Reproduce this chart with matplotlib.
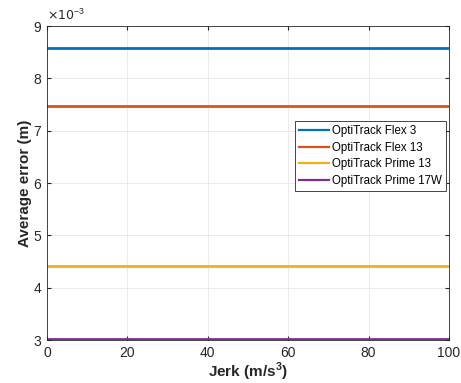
import matplotlib
matplotlib.use("Agg")
import matplotlib.pyplot as plt
from matplotlib.ticker import FuncFormatter

jerk = [0, 100]
flex3 = [0.00858, 0.00858]
flex13 = [0.00748, 0.00748]
prime13 = [0.00442, 0.00442]
prime17w = [0.00303, 0.00303]

names = ["OptiTrack Flex 3", "OptiTrack Flex 13", "OptiTrack Prime 13", "OptiTrack Prime 17W"]
colors = ["#0072BD", "#D95319", "#EDB120", "#7E2F8E"]

xticks = [0, 20, 40, 60, 80, 100]
yticks = [0.003, 0.004, 0.005, 0.006, 0.007, 0.008, 0.009]


def main():
	plt.rcParams["font.family"] = ["Liberation Sans", "DejaVu Sans"]
	fig = plt.figure(figsize=(4.61, 3.83), dpi=100)
	ax = fig.add_axes([0.102, 0.112, 0.872, 0.820])

	for ys, name, c in zip([flex3, flex13, prime13, prime17w], names, colors):
		ax.plot(jerk, ys, color=c, lw=2, label=name)

	ax.set_xlim(0, 100)
	ax.set_ylim(0.003, 0.009)
	ax.set_xticks(xticks)
	ax.set_yticks(yticks)
	ax.yaxis.set_major_formatter(FuncFormatter(lambda v, p: "%g" % round(v * 1000, 6)))
	ax.tick_params(direction="in", labelsize=10, colors="#262626", length=3,
		top=True, right=True, labelcolor="#262626", pad=4)
	for s in ax.spines.values():
		s.set_color("#262626")
		s.set_linewidth(0.6)
	ax.grid(color="#e6e6e6", lw=0.6)
	ax.set_axisbelow(True)

	ax.text(0.0, 1.01, r"$\times10^{\mathregular{-3}}$", transform=ax.transAxes,
		fontsize=9, color="#262626", ha="left", va="bottom")

	ax.set_xlabel("Jerk (m/s$^{\\mathregular{3}}$)", fontsize=11, fontweight="bold",
		color="#262626", labelpad=1)
	ax.set_ylabel("Average error (m)", fontsize=11, fontweight="bold",
		color="#262626", labelpad=1)

	leg = ax.legend(loc="upper right", bbox_to_anchor=(0.993, 0.697), fontsize=8.3,
		frameon=True, fancybox=False, edgecolor="#262626", framealpha=1,
		borderpad=0.35, labelspacing=0.4, handlelength=2.6, handletextpad=0.25,
		borderaxespad=0)
	leg.get_frame().set_linewidth(0.6)
	for h in leg.get_lines():
		h.set_linewidth(1.6)

	plt.savefig("out.png", dpi=100)


if __name__ == '__main__':
	main()
